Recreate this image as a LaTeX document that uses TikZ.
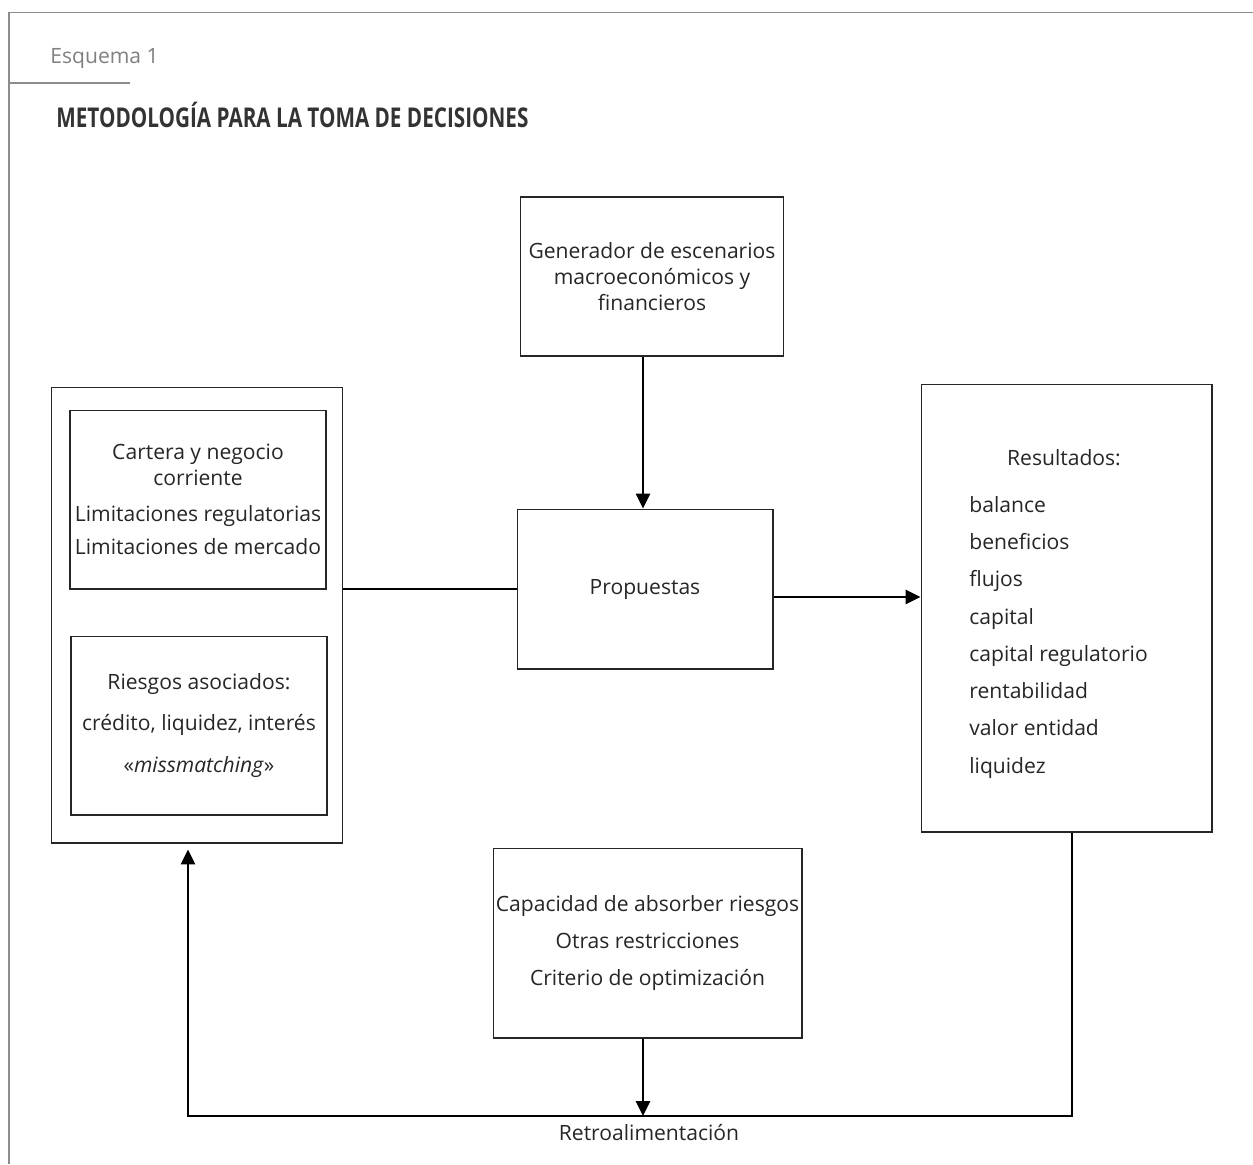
\documentclass[tikz,border=0pt]{standalone}
\usepackage{fontspec}
\setmainfont{Open Sans}
\newfontfamily\titulo{Open Sans}[FakeStretch=0.76]
\usetikzlibrary{arrows.meta}

\begin{document}
\begin{tikzpicture}[x=0.02cm, y=-0.02cm,
		caja/.style={draw=black!85, line width=0.6pt, inner sep=0pt, align=center, text=black!85, font=\fontsize{12}{15}\selectfont},
		texto/.style={inner sep=0pt, text=black!85, font=\fontsize{12}{15}\selectfont},
		flecha/.style={line width=1.3pt, -{Triangle[length=8.5pt,width=8pt]}},
		marco/.style={draw=black!45, line width=0.8pt}]
		\useasboundingbox (0,0) rectangle (1253,1164);
		\draw[marco] (1253,12.7) -- (9,12.7) -- (9,1164);
		\draw[marco] (9,83) -- (130,83);
		\node (esquema) [texto, anchor=base west, text=black!50] at (50,63) {Esquema 1};
		\node (titulo) [texto, anchor=base west, text=black!80, font=\titulo\bfseries\fontsize{15.5}{18}\selectfont] at (56,127) {METODOLOGÍA PARA LA TOMA DE DECISIONES};
		\node (gen) [caja, minimum width=5.25cm, minimum height=3.18cm] at (652,276.5) {Generador de escenarios\\macroeconómicos y\\financieros};
		\node (prop) [caja, minimum width=5.12cm, minimum height=3.2cm] at (645,589) {Propuestas};
		\node (izq) [caja, minimum width=5.81cm, minimum height=9.12cm] at (197,615) {};
		\node (cartera) [caja, minimum width=5.12cm, minimum height=3.58cm] at (198,499.5) {Cartera y negocio\\corriente\\[5.5pt]Limitaciones regulatorias\\[3.8pt]Limitaciones de mercado};
		\node (riesgos) [caja, minimum width=5.12cm, minimum height=3.58cm] at (199,725.5) {Riesgos asociados:\\[8.9pt]crédito, liquidez, interés\\[8.9pt]«\textit{missmatching}»};
		\node (res) [caja, minimum width=5.82cm, minimum height=8.96cm] at (1066.5,608) {};
		\node (restit) [texto, anchor=base] at (1064,465) {Resultados:};
		\node (reslista) [texto, anchor=north west, align=left, font=\fontsize{12}{21.2}\selectfont] at (969,496) {balance\\beneficios\\flujos\\capital\\capital regulatorio\\rentabilidad\\valor entidad\\liquidez};
		\node (cap) [caja, minimum width=6.18cm, minimum height=3.8cm] at (647.5,943) {Capacidad de absorber riesgos\\[6.3pt]Otras restricciones\\[6.3pt]Criterio de optimización};
		\coordinate (retro) at (643,1116);
		\coordinate (esqder) at (1072,1116);
		\coordinate (esqizq) at (188,1116);
		\node (txtretro) [texto, anchor=base] at (649,1140) {Retroalimentación};
		\draw[flecha] (gen.south -| 643,0) -- (prop.north -| 643,0);
		\draw[line width=1.3pt] (izq.east |- prop.west) -- (prop.west);
		\draw[flecha] ([yshift=-0.16cm]prop.east) -- ([yshift=-0.16cm]prop.east -| res.west);
		\draw[flecha] (cap.south -| retro) -- (retro);
		\draw[flecha, shorten >=3.4pt] (res.south -| esqder) -- (esqder) -- (esqizq) -- (izq.south -| esqizq);
	\end{tikzpicture}
\end{document}
